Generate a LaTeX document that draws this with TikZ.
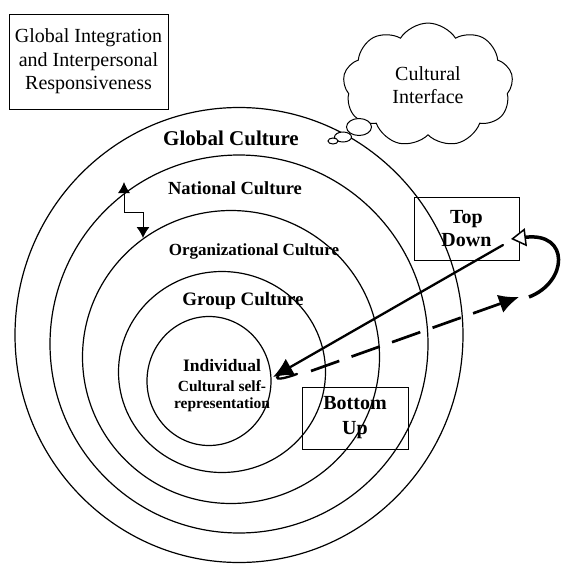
\documentclass[tikz,border=0pt]{standalone}
\usepackage{fontspec}
\setmainfont{Liberation Serif}
\usepackage{tikz}
\usetikzlibrary{arrows.meta, positioning, calc, shapes.geometric, shapes.symbols}

\begin{document}
\begin{tikzpicture}[
      x=1pt, y=-1pt,
      ring/.style={ellipse, draw, line width=1.2pt, inner sep=0pt},
      box/.style={rectangle, draw, line width=0.8pt, inner sep=0pt, align=center},
      bubble/.style={ellipse, draw, fill=white, line width=1pt, inner sep=0pt},
      plain/.style={align=center, font=\fontsize{20}{23.5}\selectfont},
      lbl/.style 2 args={align=center, font=\bfseries\fontsize{#1}{#2}\selectfont},
      flow/.style={line width=2.3pt, line cap=round},
      >=Latex
    ]
    \useasboundingbox (0,0) rectangle (573,576);
    \node [ring, minimum width=448pt, minimum height=455pt] (global) at (239,335) {};
    \node [ring, minimum width=378pt, minimum height=378pt] (national) at (239,344) {};
    \node [ring, minimum width=297pt, minimum height=293pt] (org) at (231,357) {};
    \node [ring, minimum width=207pt, minimum height=201pt] (group) at (222,372) {};
    \node [ring, minimum width=124pt, minimum height=129pt] (indiv) at (209,381) {};
    \node [lbl={21}{24}] (globallbl) at (231,138) {Global Culture};
    \node [lbl={18.5}{21}] (nationallbl) at (235,188) {National Culture};
    \node [lbl={17}{20}] (orglbl) at (254,251) {Organizational Culture};
    \node [lbl={19}{22}] (grouplbl) at (243,301) {Group Culture};
    \node [lbl={17.5}{20}] (indivlbl) at (222,366) {Individual};
    \node [lbl={15.5}{17.5}, below=1pt of indivlbl] (selflbl) {Cultural self-\\representation};
    \node [box, plain, minimum width=159pt, minimum height=95pt] (integ) at (88.5,61.5)
      {Global Integration\\and Interpersonal\\Responsiveness};
    \node [cloud, draw, fill=white, line width=1pt, cloud puffs=9, cloud puff arc=115,
      minimum width=170pt, minimum height=104pt, plain] (iface) at (428,85) {Cultural\\Interface};
    \node [bubble, minimum width=25pt, minimum height=17pt] (b1) at (359,127) {};
    \node [bubble, minimum width=17pt, minimum height=10pt] (b2) at (343,137) {};
    \node [bubble, minimum width=10pt, minimum height=6pt] (b3) at (333,141) {};
    \node [box, lbl={20}{23}, minimum width=105pt, minimum height=63pt] (topdown) at (466.5,228.5) {Top\\Down};
    \node [box, lbl={20}{25}, minimum width=106pt, minimum height=62pt] (bottomup) at (355,418) {Bottom\\Up};
    \coordinate (tdstart) at (503,245);
    \coordinate (indtip) at (273,377);
    \coordinate (hookA) at (281,373);
    \coordinate (hookB) at (297,374);
    \coordinate (bustart) at (311,371);
    \coordinate (butip) at (519,297);
    \coordinate (loopA) at (529,297);
    \coordinate (loopB) at (511,239);
    \coordinate (zigtop) at (124,182);
    \coordinate (zigbot) at (143,238);
    \draw [flow, -{Latex[length=20pt, width=19pt]}] (tdstart) -- (indtip);
    \draw [flow] (hookA) to [out=220, in=200, looseness=2.2] (hookB);
    \draw [flow, line width=2.7pt, line cap=butt, dash pattern=on 30pt off 13pt,
      -{Latex[length=20pt, width=19pt]}] (bustart) -- (butip);
    \draw [line width=3.5pt, -{Triangle[open, fill=white, length=15pt, width=18pt, line width=1.5pt]}]
      (loopA) .. controls (568,282) and (570,232) .. (loopB);
    \draw [line width=1pt, {Latex[length=11pt, width=12pt]}-{Latex[length=11pt, width=13pt]}]
      (zigtop) -- (124,212) -- (143,212) -- (zigbot);
\end{tikzpicture}
\end{document}
